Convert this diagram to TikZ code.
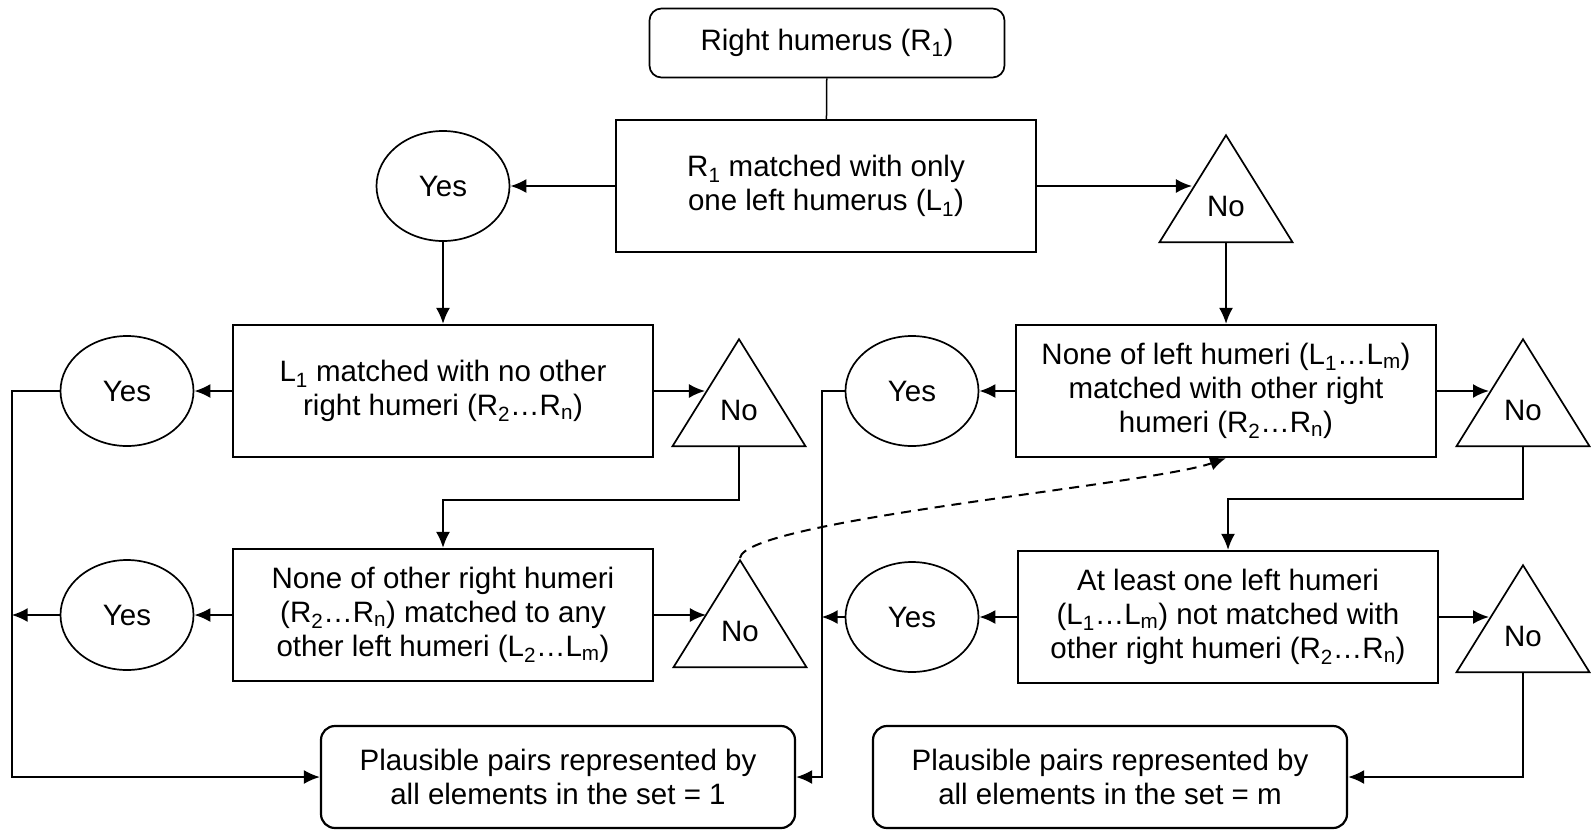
\documentclass[tikz,border=0pt]{standalone}
\usepackage{fontspec}
\setmainfont{Liberation Sans}
\usetikzlibrary{arrows.meta,shapes.geometric,calc}
\newcommand{\sub}[1]{\textsubscript{#1}}

\begin{document}
\begin{tikzpicture}[x=1pt,y=-1pt,->,>={Latex[length=16pt,width=14pt]},line width=2pt,
  every node/.style={font=\fontsize{29.5}{34}\selectfont,align=center,line width=2.2pt},
  qbox/.style={draw,rectangle,minimum width=420pt,minimum height=132pt,inner sep=0pt},
  endbox/.style={draw,rectangle,rounded corners=14pt,minimum width=474pt,minimum height=102pt},
  yesnode/.style={draw,ellipse,minimum width=133pt,minimum height=110pt,line width=1.7pt},
  nonode/.style={draw,isosceles triangle,isosceles triangle stretches,shape border rotate=90,
    minimum width=133pt,minimum height=107pt,inner sep=0pt,text depth=10pt,line width=1.7pt,anchor=apex}]
  \useasboundingbox (0,0) rectangle (1591,831);

  \node[qbox,rounded corners=12pt,minimum width=355pt,minimum height=69pt,line width=1.7pt] (start) at (827,43) {Right humerus (R\sub1)};
  \node[qbox] (q1) at (826,186) {R\sub1 matched with only\\one left humerus (L\sub1)};
  \node[yesnode] (y1) at (443,186) {Yes};
  \node[nonode] (n1) at (1226,133) {No};

  \node[qbox] (q2) at (443,391) {L\sub1 matched with no other\\right humeri (R\sub2…R\sub n)};
  \node[yesnode] (y2) at (127,391) {Yes};
  \node[nonode] (n2) at (739,337) {No};
  \node[qbox] (q3) at (443,615) {None of other right humeri\\(R\sub2…R\sub n) matched to any\\other left humeri (L\sub2…L\sub m)};
  \node[yesnode] (y3) at (127,615) {Yes};
  \node[nonode] (n3) at (740,558) {No};

  \node[qbox] (q4) at (1226,391) {None of left humeri (L\sub1…L\sub m)\\matched with other right\\humeri (R\sub2…R\sub n)};
  \node[yesnode] (y4) at (912,391) {Yes};
  \node[nonode] (n4) at (1523,337) {No};
  \node[qbox] (q5) at (1228,617) {At least one left humeri\\(L\sub1…L\sub m) not matched with\\other right humeri (R\sub2…R\sub n)};
  \node[yesnode] (y5) at (912,617) {Yes};
  \node[nonode] (n5) at (1523,563) {No};

  \node[endbox] (one) at (558,777) {Plausible pairs represented by\\all elements in the set = 1};
  \node[endbox] (m) at (1110,777) {Plausible pairs represented by\\all elements in the set = m};

  % where the arrows hit the triangles
  \foreach \n in {n1,n2,n3,n4,n5}
    \coordinate (\n in) at ($(\n.apex)!0.5!(\n.left corner)$);

  % top
  \draw[-,line width=1.5pt] (start) -- (q1);
  \draw (q1.west) -- (y1.east);
  \draw (q1.east) -- (q1.east -| n1in);
  \draw (y1.south) -- (q2.north);
  \draw (n1.south) -- (n1.south |- q4.north);

  % left branch
  \draw (q2.west) -- (y2.east);
  \draw (q2.east) -- (q2.east -| n2in);
  \draw (y2.west) -- ++(-48,0) |- (one.west);
  \draw (n2.south) -- ++(0,53) -| (q3.north);
  \draw (q3.west) -- (y3.east);
  \draw (y3.west) -- ++(-48,0);
  \draw (q3.east) -- (q3.east -| n3in);
  \draw[dash pattern=on 10pt off 7pt] (n3.apex) .. controls (745,520) and (1150,485) .. (q4.south);

  % right branch
  \draw (q4.west) -- (y4.east);
  \draw (q4.east) -- (q4.east -| n4in);
  \draw (y4.west) -- ++(-23,0) |- (one.east);
  \draw (n4.south) -- ++(0,52) -| (q5.north);
  \draw (q5.west) -- (y5.east);
  \draw (y5.west) -- ++(-23,0);
  \draw (q5.east) -- (q5.east -| n5in);
  \draw (n5.south) |- (m.east);
\end{tikzpicture}
\end{document}
